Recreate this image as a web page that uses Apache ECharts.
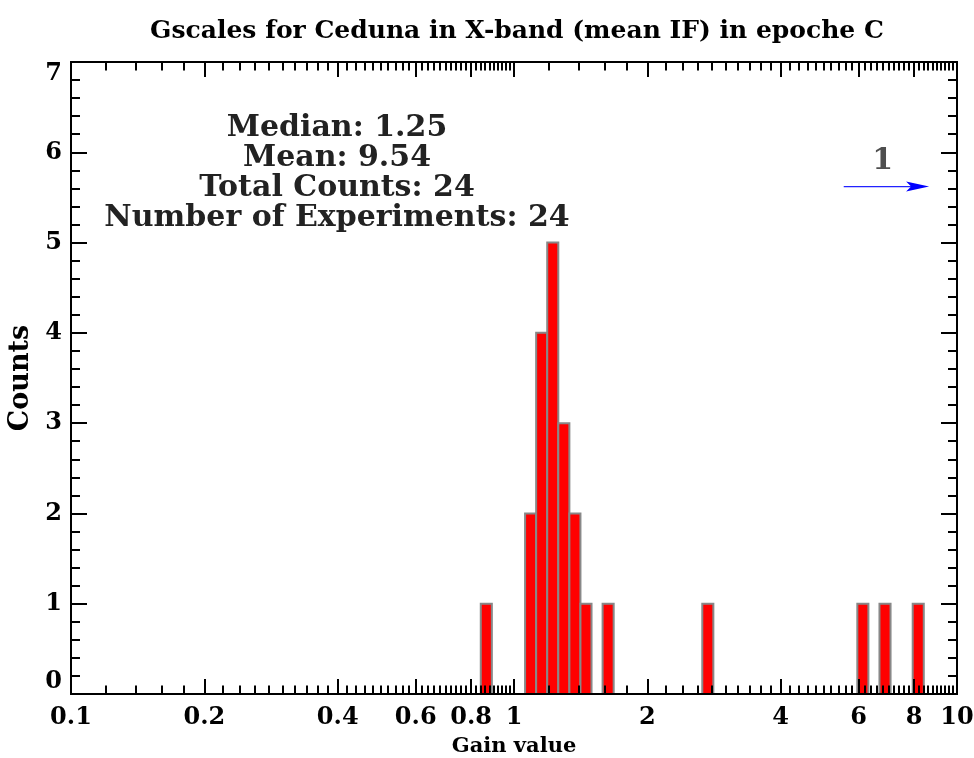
<!DOCTYPE html>
<html>
<head>
<meta charset="utf-8">
<title>Gscales for Ceduna</title>
<script src="https://cdn.jsdelivr.net/npm/echarts@6/dist/echarts.min.js"></script>
<style>
  html, body { margin: 0; padding: 0; background: #fff; }
  #main { width: 974px; height: 758px; }
</style>
</head>
<body>
<div id="main"></div>
<script>
// histogram: left edge of each bin as log10(gain), all bins 0.025 dex wide
var binLogStart = [-0.075, 0.025, 0.05, 0.075, 0.1, 0.125, 0.15, 0.2, 0.425, 0.775, 0.825, 0.9];
var binLogWidth = 0.025;
var binCounts = [1, 2, 4, 5, 3, 2, 1, 1, 1, 1, 1, 1];

// tick labels
var xMajorTicks = [0.1, 0.2, 0.4, 0.6, 0.8, 1, 2, 4, 6, 8, 10];

var titleText = 'Gscales for Ceduna in X-band (mean IF) in epoche C';
var statLines = ['Median: 1.25', 'Mean: 9.54', 'Total Counts: 24', 'Number of Experiments: 24'];

// one count lies beyond the right end of the axis
var overflowCount = 1;
var overflowArrowGain = [5.55, 8.65];
var overflowArrowCount = 5.62;
var overflowLabelAt = [6.8, 5.9];

// minor ticks: 0.02 steps below 1, 0.2 steps above 1
var xMinorTicks = [];
for (var i = 6; i < 50; i++) xMinorTicks.push(i * 0.02);
for (var j = 6; j < 50; j++) xMinorTicks.push(j * 0.2);

var font = 'DejaVu Serif';
var lg = function (v) { return Math.log10(v); };

var myChart = echarts.init(document.getElementById('main'));

function makeXAxis(position, ticks, tickLen, withLabels) {
    return {
        type: 'value',
        position: position,
        min: -1,
        max: 1,
        z: 5,
        axisLine: { show: true, onZero: false, lineStyle: { color: '#000', width: 2 } },
        axisTick: { show: true, inside: true, length: tickLen, customValues: ticks,
                    lineStyle: { color: '#000', width: 2 } },
        axisLabel: {
            show: withLabels,
            customValues: ticks,
            margin: 12,
            color: '#000',
            fontFamily: font,
            fontWeight: 'bold',
            fontSize: 24,
            formatter: function (v) { return String(+Math.pow(10, v).toFixed(2)); }
        },
        splitLine: { show: false }
    };
}

function makeYAxis(position, withLabels) {
    return {
        type: 'value',
        position: position,
        min: 0,
        max: 7,
        interval: 1,
        z: 5,
        axisLine: { show: true, onZero: false, lineStyle: { color: '#000', width: 2 } },
        axisTick: { show: true, inside: true, length: 16, lineStyle: { color: '#000', width: 2 } },
        minorTick: { show: true, splitNumber: 5, length: 9, lineStyle: { color: '#000', width: 2 } },
        axisLabel: {
            show: withLabels,
            margin: 9,
            color: '#000',
            fontFamily: font,
            fontWeight: 'bold',
            fontSize: 24,
            verticalAlignMinLabel: 'bottom',
            verticalAlignMaxLabel: 'top'
        },
        splitLine: { show: false },
        minorSplitLine: { show: false }
    };
}

var xMajorLog = xMajorTicks.map(lg);
var xMinorLog = xMinorTicks.map(lg);

var xBottom = makeXAxis('bottom', xMajorLog, 15, true);
xBottom.name = 'Gain value';
xBottom.nameLocation = 'middle';
xBottom.nameGap = 42;
xBottom.nameTextStyle = { color: '#000', fontFamily: font, fontWeight: 'bold', fontSize: 21 };

var yLeft = makeYAxis('left', true);
yLeft.name = 'Counts';
yLeft.nameLocation = 'middle';
yLeft.nameGap = 36;
yLeft.nameTextStyle = { color: '#000', fontFamily: font, fontWeight: 'bold', fontSize: 27 };

var barData = binLogStart.map(function (s, k) {
    return [s, s + binLogWidth, binCounts[k]];
});

var option = {
    animation: false,
    backgroundColor: '#fff',
    grid: { left: 71, right: 17, top: 62, bottom: 64, containLabel: false, outerBoundsMode: 'none' },
    xAxis: [
        xBottom,
        makeXAxis('bottom', xMinorLog, 8.5, false),
        makeXAxis('top', xMajorLog, 15, false),
        makeXAxis('top', xMinorLog, 8.5, false)
    ],
    yAxis: [yLeft, makeYAxis('right', false)],
    graphic: [
        {
            type: 'text', x: 517, y: 31, silent: true,
            style: { text: titleText, align: 'center', verticalAlign: 'middle', fill: '#000',
                     font: 'bold 25px "DejaVu Serif"' }
        }
    ].concat(statLines.map(function (t, k) {
        return {
            type: 'text', x: 337, y: 128 + k * 30, silent: true,
            style: { text: t, align: 'center', verticalAlign: 'middle', fill: '#222',
                     font: 'bold 30px "DejaVu Serif"' }
        };
    })),
    series: [
        {
            type: 'custom',
            xAxisIndex: 0,
            yAxisIndex: 0,
            z: 1,
            encode: { x: [0, 1], y: 2 },
            data: barData,
            renderItem: function (params, api) {
                var p0 = api.coord([api.value(0), 0]);
                var p1 = api.coord([api.value(1), api.value(2)]);
                return {
                    type: 'rect',
                    shape: { x: p0[0], y: p1[1], width: p1[0] - p0[0], height: p0[1] - p1[1] },
                    style: { fill: '#ff0000', stroke: '#888888', lineWidth: 2 }
                };
            }
        },
        {
            // overflow arrow: thin line plus a long narrow notched head
            type: 'custom',
            xAxisIndex: 0,
            yAxisIndex: 0,
            silent: true,
            z: 3,
            encode: { x: [0, 1], y: 2 },
            data: [[lg(overflowArrowGain[0]), lg(overflowArrowGain[1]), overflowArrowCount]],
            renderItem: function (params, api) {
                var a = api.coord([api.value(0), api.value(2)]);
                var b = api.coord([api.value(1), api.value(2)]);
                var y = b[1];
                return {
                    type: 'group',
                    children: [
                        { type: 'line', shape: { x1: a[0], y1: y, x2: b[0] - 15, y2: y },
                          style: { stroke: '#2222ff', lineWidth: 1.2 } },
                        { type: 'polygon',
                          shape: { points: [[b[0], y], [b[0] - 23, y - 5], [b[0] - 18, y], [b[0] - 23, y + 5]] },
                          style: { fill: '#0000ff' } }
                    ]
                };
            }
        },
        {
            type: 'scatter',
            xAxisIndex: 0,
            yAxisIndex: 0,
            silent: true,
            symbolSize: 0,
            data: [[lg(overflowLabelAt[0]), overflowLabelAt[1]]],
            label: {
                show: true, position: 'inside', color: '#222',
                fontFamily: font, fontWeight: 'bold', fontSize: 30,
                formatter: function () { return String(overflowCount); }
            }
        }
    ]
};

myChart.setOption(option);
</script>
</body>
</html>
